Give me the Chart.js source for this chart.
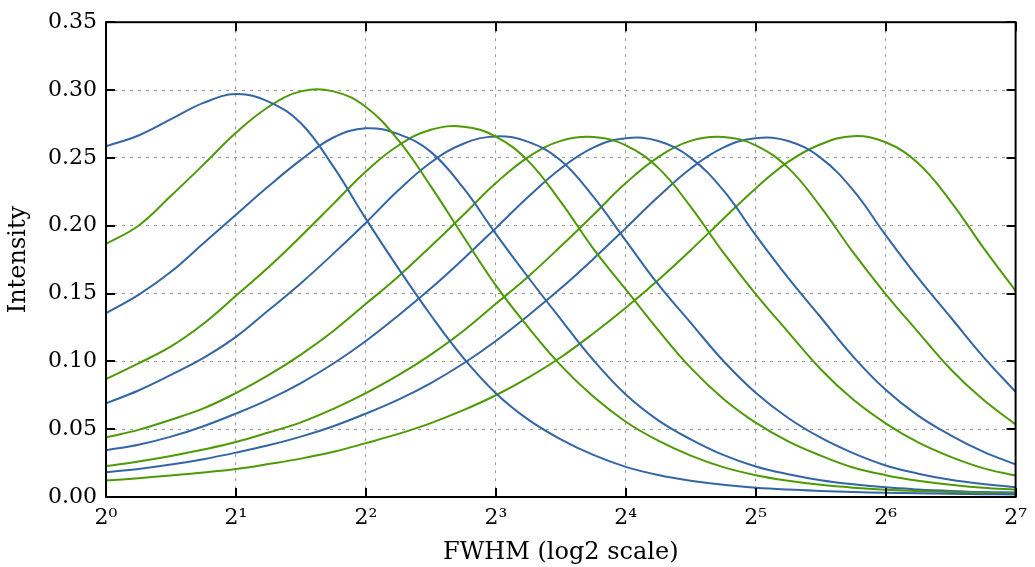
<!DOCTYPE html>
<html lang="en">
<head>
  <meta charset="UTF-8">
  <title>Intensity vs FWHM</title>
  <script src="https://cdn.jsdelivr.net/npm/chart.js"></script>
  <style>
    html, body { margin: 0; padding: 0; background: #fff; }
    #wrap { width: 1035px; height: 567px; }
  </style>
</head>
<body>
<div id="wrap"><canvas id="chart" width="1035" height="567"></canvas></div>
<script>
  // FWHM sample positions (quarter octaves from 2^0 to 2^7)
  const fwhm = [1, 1.1892, 1.4142, 1.6818, 2, 2.3784, 2.8284, 3.3636, 4, 4.7568, 5.6569, 6.7272,
    8, 9.5137, 11.3137, 13.4543, 16, 19.0273, 22.6274, 26.9087, 32, 38.0546, 45.2548, 53.8174,
    64, 76.1093, 90.5097, 107.6347, 128];

  const xTicks = [1, 2, 4, 8, 16, 32, 64, 128];
  const xTickLabels = ['2⁰', '2¹', '2²', '2³', '2⁴', '2⁵', '2⁶', '2⁷'];

  // intensity curves (blue / green alternate)
  const blue1 = [0.2585, 0.2665, 0.2785, 0.2905, 0.2970, 0.2915, 0.2755, 0.2435, 0.2050, 0.1685, 0.1340, 0.1025,
    0.0765, 0.0570, 0.0425, 0.0310, 0.0222, 0.0162, 0.0120, 0.0090, 0.0069, 0.0055, 0.0045, 0.0037,
    0.0031, 0.0027, 0.0024, 0.0021, 0.0019];
  const green1 = [0.1866, 0.2000, 0.2220, 0.2450, 0.2685, 0.2875, 0.2990, 0.2990, 0.2875, 0.2630, 0.2290, 0.1920,
    0.1560, 0.1250, 0.0970, 0.0740, 0.0555, 0.0415, 0.0305, 0.0220, 0.0161, 0.0120, 0.0090, 0.0069,
    0.0054, 0.0044, 0.0036, 0.0031, 0.0026];
  const blue2 = [0.1355, 0.1490, 0.1660, 0.1870, 0.2080, 0.2290, 0.2485, 0.2650, 0.2718, 0.2675, 0.2544, 0.2278,
    0.1940, 0.1618, 0.1310, 0.1010, 0.0755, 0.0565, 0.0425, 0.0310, 0.0225, 0.0168, 0.0124, 0.0094,
    0.0071, 0.0056, 0.0045, 0.0037, 0.0033];
  const green2 = [0.0870, 0.0985, 0.1110, 0.1277, 0.1483, 0.1693, 0.1922, 0.2161, 0.2400, 0.2591, 0.2707, 0.2730,
    0.2657, 0.2476, 0.2175, 0.1831, 0.1530, 0.1230, 0.0952, 0.0725, 0.0548, 0.0410, 0.0305, 0.0217,
    0.0161, 0.0120, 0.0090, 0.0068, 0.0054];
  const blue3 = [0.0690, 0.0785, 0.0900, 0.1025, 0.1180, 0.1376, 0.1576, 0.1794, 0.2022, 0.2261, 0.2466, 0.2604,
    0.2658, 0.2618, 0.2480, 0.2214, 0.1890, 0.1567, 0.1284, 0.1004, 0.0768, 0.0582, 0.0437, 0.0323,
    0.0232, 0.0172, 0.0127, 0.0096, 0.0072];
  const green3 = [0.0440, 0.0495, 0.0570, 0.0653, 0.0766, 0.0898, 0.1050, 0.1224, 0.1424, 0.1626, 0.1848, 0.2079,
    0.2314, 0.2506, 0.2625, 0.2654, 0.2592, 0.2426, 0.2139, 0.1803, 0.1496, 0.1216, 0.0942, 0.0718,
    0.0543, 0.0402, 0.0296, 0.0213, 0.0158];
  const blue4 = [0.0345, 0.0385, 0.0445, 0.0522, 0.0615, 0.0718, 0.0840, 0.0984, 0.1150, 0.1338, 0.1538, 0.1755,
    0.1982, 0.2213, 0.2422, 0.2575, 0.2645, 0.2624, 0.2500, 0.2262, 0.1930, 0.1615, 0.1325, 0.1035,
    0.0790, 0.0600, 0.0455, 0.0335, 0.0240];
  const green4 = [0.0228, 0.0262, 0.0303, 0.0350, 0.0405, 0.0475, 0.0550, 0.0650, 0.0766, 0.0898, 0.1050, 0.1224,
    0.1424, 0.1626, 0.1848, 0.2079, 0.2314, 0.2506, 0.2625, 0.2654, 0.2592, 0.2426, 0.2139, 0.1803,
    0.1496, 0.1216, 0.0942, 0.0718, 0.0535];
  const blue5 = [0.0182, 0.0207, 0.0239, 0.0279, 0.0327, 0.0381, 0.0445, 0.0522, 0.0615, 0.0718, 0.0840, 0.0984,
    0.1150, 0.1338, 0.1538, 0.1755, 0.1982, 0.2213, 0.2422, 0.2575, 0.2645, 0.2624, 0.2500, 0.2262,
    0.1930, 0.1615, 0.1325, 0.1035, 0.0775];
  const green5 = [0.0121, 0.0139, 0.0159, 0.0181, 0.0207, 0.0243, 0.0283, 0.0333, 0.0397, 0.0465, 0.0545, 0.0640,
    0.0750, 0.0880, 0.1030, 0.1205, 0.1395, 0.1600, 0.1820, 0.2050, 0.2275, 0.2470, 0.2600, 0.2660,
    0.2615, 0.2460, 0.2180, 0.1840, 0.1520];

  const BLUE = '#3465a4';
  const GREEN = '#4e9a06';
  const FONT = 'DejaVu Serif';

  const series = [blue1, green1, blue2, green2, blue3, green3, blue4, green4, blue5, green5];

  // matplotlib-like frame with inward ticks on all four sides
  const framePlugin = {
    id: 'frame',
    afterDraw(chart) {
      const ctx = chart.ctx;
      const a = chart.chartArea;
      const xs = chart.scales.x, ys = chart.scales.y;
      const len = 9;
      ctx.save();
      ctx.strokeStyle = '#000';
      ctx.lineWidth = 2;
      ctx.beginPath();
      xs.ticks.forEach(t => {
        const px = Math.round(xs.getPixelForValue(t.value));
        ctx.moveTo(px, a.bottom); ctx.lineTo(px, a.bottom - len);
        ctx.moveTo(px, a.top); ctx.lineTo(px, a.top + len);
      });
      ys.ticks.forEach(t => {
        const py = Math.round(ys.getPixelForValue(t.value));
        ctx.moveTo(a.left, py); ctx.lineTo(a.left + len, py);
        ctx.moveTo(a.right, py); ctx.lineTo(a.right - len, py);
      });
      ctx.stroke();
      ctx.strokeRect(a.left, a.top, a.right - a.left, a.bottom - a.top);
      ctx.restore();
    }
  };

  const ctx = document.getElementById('chart').getContext('2d');
  new Chart(ctx, {
    type: 'line',
    data: {
      datasets: series.map((vals, i) => ({
        data: vals.map((v, k) => ({x: fwhm[k], y: v})),
        borderColor: i % 2 === 0 ? BLUE : GREEN,
        borderWidth: 2,
        pointRadius: 0,
        fill: false,
        tension: 0.4
      }))
    },
    options: {
      responsive: false,
      animation: false,
      layout: { padding: { top: 19, right: 17, left: 0, bottom: 0 } },
      plugins: { legend: { display: false }, tooltip: { enabled: false } },
      scales: {
        x: {
          type: 'logarithmic',
          min: 1,
          max: 128,
          afterBuildTicks: s => { s.ticks = xTicks.map(v => ({ value: v })); },
          afterFit: s => { s.height = 70; },
          ticks: {
            autoSkip: false,
            maxRotation: 0,
            padding: 8,
            color: '#000',
            font: { family: FONT, size: 22 },
            callback: (v, i) => xTickLabels[i]
          },
          grid: { color: '#999', lineWidth: 1, drawTicks: false, borderDash: [3, 5] },
          border: { display: false, dash: [3, 5] },
          title: {
            display: true,
            text: 'FWHM (log2 scale)',
            color: '#000',
            font: { family: FONT, size: 24 },
            padding: { top: 0, bottom: 0 }
          }
        },
        y: {
          min: 0,
          max: 0.35,
          afterFit: s => { s.width = 106; },
          ticks: {
            stepSize: 0.05,
            padding: 9,
            color: '#000',
            font: { family: FONT, size: 22 },
            callback: v => v.toFixed(2)
          },
          grid: { color: '#999', lineWidth: 1, drawTicks: false, borderDash: [3, 5] },
          border: { display: false, dash: [3, 5] },
          title: {
            display: true,
            text: 'Intensity',
            color: '#000',
            font: { family: FONT, size: 24 },
            padding: { top: 4, bottom: 0 }
          }
        }
      }
    },
    plugins: [framePlugin]
  });
</script>
</body>
</html>
